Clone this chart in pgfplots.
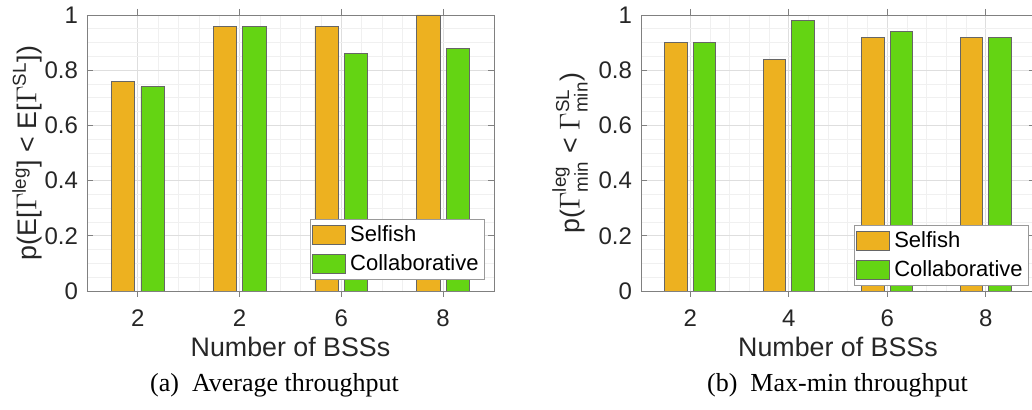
\documentclass[border=0pt]{standalone}
\usepackage{amsmath}
\usepackage{fontspec}
\setmainfont{Liberation Sans}
\newfontfamily\capfont{Liberation Serif}
\usepackage{pgfplots}
\pgfplotsset{compat=1.18}
\definecolor{selfish}{RGB}{237,177,32}
\definecolor{collab}{RGB}{100,212,19}
\pgfplotsset{
  mybar/.style={
    scale only axis, height=138pt,
    ymin=0, ymax=1, xmin=0.5, xmax=4.5,
    xtick={1,2,3,4},
    ytick={0,0.2,0.4,0.6,0.8,1},
    minor x tick num=4, minor y tick num=3,
    grid=both,
    major grid style={black!13},
    minor grid style={black!6},
    tick align=inside, xtick pos=both, ytick pos=both,
    major tick length=3pt, minor tick length=0pt,
    axis line style={black!50}, every tick/.style={black!50},
    ticklabel style={font=\fontsize{12}{14}\selectfont, text=black!85},
    /pgf/number format/assume math mode=true,
    xticklabel style={yshift=-3pt},
    yticklabel style={xshift=-1pt},
    label style={font=\fontsize{13.4}{16}\selectfont, text=black!85},
    xlabel style={at={(axis description cs:0.5,0)}, anchor=center, yshift=-28pt},
    ybar, bar width=0.23,
    legend cell align=left,
    legend style={font=\fontsize{11}{13}\selectfont, draw=black!40, inner sep=1pt,
      row sep=1pt, text=black},
    legend image code/.code={\draw[#1] (0pt,-4.75pt) rectangle (16.5pt,4.75pt);},
  }
}
\begin{document}
\begin{tikzpicture}
\useasboundingbox (0,0) rectangle (516pt,205pt);
\begin{axis}[mybar, at={(43.5pt,59.5pt)}, anchor=south west, width=203.5pt,
  xticklabels={2,2,6,8},
  xlabel={Number of BSSs},
  ylabel={p(E[$\Gamma^{\text{leg}}$] < E[$\Gamma^{\text{SL}}$])},
  ylabel style={at={(axis description cs:-0.147,0.5)}, anchor=center},
  legend style={at={(0.978,0.04)}, anchor=south east}]
\addplot[fill=selfish, draw=black!60, bar shift=-0.145] coordinates {(1,0.76) (2,0.96) (3,0.96) (4,1.0)};
\addplot[fill=collab, draw=black!60, bar shift=0.145] coordinates {(1,0.74) (2,0.96) (3,0.86) (4,0.88)};
\legend{Selfish,Collaborative}
\end{axis}
\begin{axis}[mybar, at={(320.5pt,59.5pt)}, anchor=south west, width=197pt,
  xticklabels={2,4,6,8},
  xlabel={Number of BSSs},
  ylabel={p($\Gamma^{\text{leg}}_{\text{min}}$ < $\Gamma^{\text{SL}}_{\text{min}}$)},
  ylabel style={at={(axis description cs:-0.18,0.5)}, anchor=center},
  legend style={at={(0.985,0.018)}, anchor=south east}]
\addplot[fill=selfish, draw=black!60, bar shift=-0.145] coordinates {(1,0.90) (2,0.84) (3,0.92) (4,0.92)};
\addplot[fill=collab, draw=black!60, bar shift=0.145] coordinates {(1,0.90) (2,0.98) (3,0.94) (4,0.92)};
\legend{Selfish,Collaborative}
\end{axis}
\node[font=\capfont\fontsize{13}{15}\selectfont] at (137.25pt,12.5pt) {(a)\enspace Average throughput};
\node[font=\capfont\fontsize{13}{15}\selectfont] at (418.75pt,12.5pt) {(b)\enspace Max-min throughput};
\end{tikzpicture}
\end{document}
